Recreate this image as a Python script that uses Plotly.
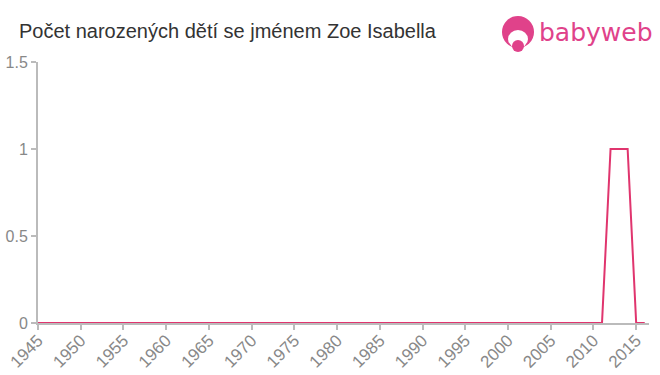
import plotly.graph_objects as go

years = list(range(1945, 2017))
ones = {2012: 1, 2013: 1, 2014: 1}
counts = [ones.get(y, 0) for y in years]

x_ticks = list(range(1945, 2016, 5))
y_ticks = [0, 0.5, 1, 1.5]
y_tick_text = ["0", "0.5", "1", "1.5"]

title_text = "Počet narozených dětí se jménem Zoe Isabella"
FONT = "Liberation Sans, Arial, sans-serif"

L, R, T, B = 38, 11, 62, 52
W, H = 660, 375
PW, PH = W - L - R, H - T - B

def px_x(p):
    return (p - L) / PW

def px_y(p):
    return (H - B - p) / PH

fig = go.Figure()
fig.add_trace(go.Scatter(
    x=years, y=counts, mode="lines",
    line=dict(color="#e0356e", width=2),
    hoverinfo="skip", showlegend=False,
))

fig.update_layout(
    width=W, height=H,
    margin=dict(l=L, r=R, t=T, b=B, autoexpand=False),
    paper_bgcolor="white", plot_bgcolor="white",
    font=dict(family=FONT, color="#888888", size=16),
    xaxis=dict(
        range=[1945, 2016.5], tickvals=x_ticks, ticktext=[str(v) for v in x_ticks],
        tickangle=-45, showgrid=False, zeroline=False, automargin=False,
        showline=True, linecolor="#bbbbbb", linewidth=2,
        ticks="outside", ticklen=5, tickcolor="#bbbbbb", tickwidth=2,
        ticklabelstandoff=-6,
        tickfont=dict(size=17, color="#888888"),
    ),
    yaxis=dict(
        range=[0, 1.5], tickvals=y_ticks, ticktext=y_tick_text,
        showgrid=False, zeroline=False, automargin=False,
        showline=True, linecolor="#bbbbbb", linewidth=2,
        ticks="outside", ticklen=5, tickcolor="#bbbbbb", tickwidth=2,
        tickfont=dict(size=16, color="#888888"),
    ),
)

fig.add_annotation(
    text=title_text, xref="paper", yref="paper",
    x=px_x(17), y=px_y(31),
    xanchor="left", yanchor="middle", showarrow=False,
    font=dict(size=20, color="#333333", family=FONT),
)

# babyweb logo approximation
fig.add_annotation(
    text="babyweb", xref="paper", yref="paper",
    x=px_x(655), y=px_y(33),
    xanchor="right", yanchor="middle", showarrow=False,
    font=dict(size=25, color="#e0428a", family="DejaVu Sans, sans-serif"),
)

fig.add_shape(type="circle", xref="paper", yref="paper",
              x0=px_x(502), x1=px_x(534), y0=px_y(48), y1=px_y(16),
              fillcolor="#e0428a", line=dict(width=0))
fig.add_shape(type="circle", xref="paper", yref="paper",
              x0=px_x(508), x1=px_x(528), y0=px_y(48), y1=px_y(30),
              fillcolor="white", line=dict(width=0))
fig.add_shape(type="circle", xref="paper", yref="paper",
              x0=px_x(512), x1=px_x(524), y0=px_y(52), y1=px_y(40),
              fillcolor="#e0428a", line=dict(width=0))

fig.write_html("out.html")
